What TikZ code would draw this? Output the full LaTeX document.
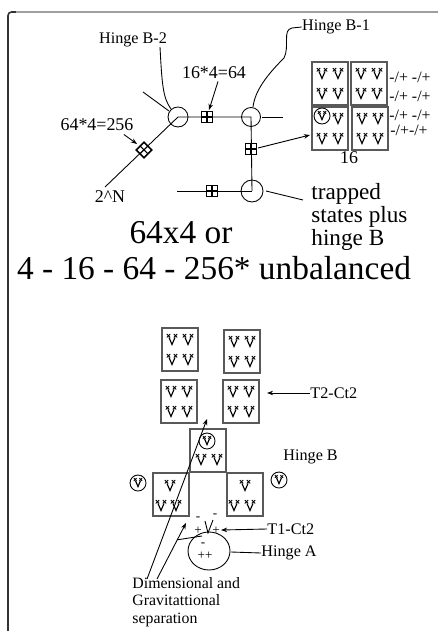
\documentclass[tikz,border=0pt]{standalone}
\usepackage{fontspec}
\setmainfont{Liberation Serif}
\usetikzlibrary{arrows.meta,calc}

\tikzset{
  boxline/.style={draw=black!65, line width=0.9pt},
  lbl/.style={font=\fontsize{9.2}{10}\selectfont, inner sep=0pt},
  midtxt/.style={font=\fontsize{10.2}{11}\selectfont, inner sep=0pt},
  pmtxt/.style={font=\fontsize{9}{9}\selectfont, inner sep=0pt},
  chg/.style={font=\fontsize{7.5}{8}\selectfont, inner sep=0pt},
  trtxt/.style={font=\fontsize{13.2}{11.2}\selectfont, inner sep=0pt, align=left},
  bigtxt/.style={font=\fontsize{19}{20}\selectfont, inner sep=0pt},
  % one small V-shaped unit with crossed tips
  vx/.pic={
    \draw[line width=0.65pt] (-3,-2.5) -- (0,4.5) -- (3,-2.5);
    \draw[line width=0.5pt] (-5.2,-6) -- (-1.8,-2.6) (-5.2,-2.6) -- (-1.8,-6);
    \draw[line width=0.5pt] (1.8,-6) -- (5.2,-2.6) (1.8,-2.6) -- (5.2,-6);
  },
  % unit inside a circle
  cvx/.pic={
    \draw (0,0) circle (8);
    \pic[scale=0.8] {vx};
  },
  % small grid square
  gsq/.pic={
    \draw[line width=0.9pt] (-5.5,-5.5) rectangle (5.5,5.5);
    \draw[line width=0.6pt] (-5.5,0) -- (5.5,0) (0,-5.5) -- (0,5.5);
  },
  cellbox/.pic={
    \draw[boxline] (0,0) rectangle (36,43);
  },
  fourbox/.pic={
    \pic {cellbox};
    \foreach \gx in {10,26}
      \foreach \gy in {12,32}
        \pic at (\gx,\gy) {vx};
  }
}

\begin{document}
\begin{tikzpicture}[x=0.02cm, y=-0.02cm, line width=0.5pt,
    >={Stealth[length=3.5pt,width=2.6pt]}]
  \useasboundingbox (0,0) rectangle (438,631);

  % Frame
  \draw[black!80, line width=0.9pt, rounded corners=2pt] (8,631) -- (8,12) -- (16,12);
  \draw[gray!75, line width=1.1pt] (16,12) -- (438,12);

  % Hinge chain
  \coordinate (hB2) at (178,117);
  \coordinate (hB1) at (251,117);
  \coordinate (hB0) at (252,191);
  \draw (hB2) circle (10);
  \draw (hB1) circle (9.5);
  \draw (hB0) circle (11);
  \draw (hB2) -- (hB1) -- (hB0);
  \coordinate (lowL) at (177,191);
  \draw (lowL) -- (hB0);
  \coordinate (diagE) at (105,187);
  \draw (hB2) -- (diagE);
  \coordinate (stubA) at (143,92);
  \coordinate (stubB) at (169,111);
  \draw (stubA) -- (stubB);
  \coordinate (stubC) at (262,117);
  \coordinate (stubD) at (283,117);
  \draw (stubC) -- (stubD);

  % Grid squares on the chain
  \coordinate (sqH) at (207,117);
  \coordinate (sqV) at (251,149);
  \coordinate (sqL) at (212,191);
  \coordinate (sqD) at (144,150);
  \pic at (sqH) {gsq};
  \pic at (sqV) {gsq};
  \pic at (sqL) {gsq};
  \pic[rotate=45] at (sqD) {gsq};

  % Labels of the chain
  \node[lbl] (hb2t) at (133,40) {Hinge B-2};
  \node[lbl] (hb1t) at (336,27) {Hinge B-1};
  \coordinate (c2a) at (160,47);
  \coordinate (c2b) at (171,109);
  \draw (c2a) .. controls (162,85) and (163,98) .. (c2b);
  \coordinate (c1a) at (292,28);
  \coordinate (c1b) at (284,58);
  \coordinate (c1c) at (253,107);
  \draw (hb1t.west) -- (c1a) .. controls (282,30) and (290,46) .. (c1b)
        .. controls (268,74) and (255,90) .. (c1c);
  \node[midtxt] (m64) at (214,73) {16*4=64};
  \node[midtxt] (m256) at (97,125) {64*4=256};
  \node[midtxt] (twoN) at (110,197) {2\textasciicircum N};
  \coordinate (a64) at (209,110);
  \coordinate (a256) at (137,144);
  \draw[->] (m64.south) ++(4,2) -- (a64);
  \draw[->] (m256.south east) ++(-10,3) -- (a256);

  % Sixteen units
  \pic at (312,62) {fourbox};
  \pic at (351,62) {fourbox};
  \pic at (312,107) {cellbox};
  \pic at (322,116) {cvx};
  \foreach \gx/\gy in {26/12,10/32,26/32}
    \pic at ($(312,107)+(\gx,\gy)$) {vx};
  \pic at (352,107) {fourbox};
  \node[midtxt] (sixteen) at (349,158) {16};
  \coordinate (gridW) at (310,135);
  \draw[->] (sqV) ++(7,-1) -- (gridW);
  \node[pmtxt] (pm1) at (410,77) {-/+ -/+};
  \node[pmtxt] (pm2) at (410,96) {-/+ -/+};
  \node[pmtxt] (pm3) at (410,115) {-/+ -/+};
  \node[pmtxt] (pm4) at (409,130) {-/+-/+};

  % Trapped states
  \node[trtxt, anchor=north west] (trap) at (311,183) {trapped\\states plus\\hinge B};
  \coordinate (trA) at (266,191);
  \coordinate (trB) at (303,200);
  \draw (trA) -- (trB);

  % Title lines
  \node[bigtxt] (t1) at (181,233) {64x4 or};
  \node[bigtxt] (t2) at (214,268) {4 - 16 - 64 - 256* unbalanced};

  % Lower arrangement
  \pic at (162,328) {fourbox};
  \pic at (224,330) {fourbox};
  \pic at (161,380) {fourbox};
  \pic at (223,380) {fourbox};
  \pic at (190,429) {cellbox};
  \pic at (207,441) {cvx};
  \foreach \gx in {11,27}
    \pic at ($(190,429)+(\gx,31)$) {vx};
  \pic at (153,473) {cellbox};
  \foreach \gx/\gy in {17/13,8/33,23/33}
    \pic at ($(153,473)+(\gx,\gy)$) {vx};
  \pic at (227,473) {cellbox};
  \foreach \gx/\gy in {18/13,7/33,23/33}
    \pic at ($(227,473)+(\gx,\gy)$) {vx};
  \pic at (138,483) {cvx};
  \pic at (279,480) {cvx};

  \node[lbl, anchor=west] (t2ct) at (310,393) {T2-Ct2};
  \coordinate (t2end) at (267,393);
  \draw[->] (t2ct.west) -- (t2end);
  \node[lbl, anchor=west] (hbt) at (283,457) {Hinge B};

  % Hinge A and charges
  \coordinate (hA) at (209,551);
  \draw (hA) ellipse (21 and 19);
  \node[chg] (mA) at (203,545) {-};
  \node[chg] (pA) at (205,556) {++};
  \node[chg] (m1) at (198,519) {-};
  \node[chg] (m2) at (215,516) {-};
  \node[chg] (p1) at (198,531) {+};
  \node[chg] (p2) at (216,531) {+};
  \draw (205,521) -- (208,533) -- (213,520);
  \node[lbl, anchor=west] (t1ct) at (267,529) {T1-Ct2};
  \coordinate (t1end) at (221,530);
  \draw[->] (t1ct.west) -- (t1end);
  \node[lbl, anchor=west] (hat) at (261,553) {Hinge A};
  \coordinate (haE) at (231,552);
  \draw (hat.west) -- (haE);

  % Separation
  \node[lbl, anchor=north west, align=left, font=\fontsize{9}{10}\selectfont]
    (sep) at (132,577) {Dimensional and\\Gravitattional\\separation};
  \coordinate (d1) at (147,579);
  \coordinate (d2) at (157,579);
  \coordinate (e1) at (207,419);
  \coordinate (e2) at (186,523);
  \coordinate (e3) at (202,536);
  \draw[->] (d1) -- (e1);
  \draw[->] (d2) -- (e2);
  \draw ($(d2)!0.7!(e2)$) -- (e3);
\end{tikzpicture}
\end{document}
